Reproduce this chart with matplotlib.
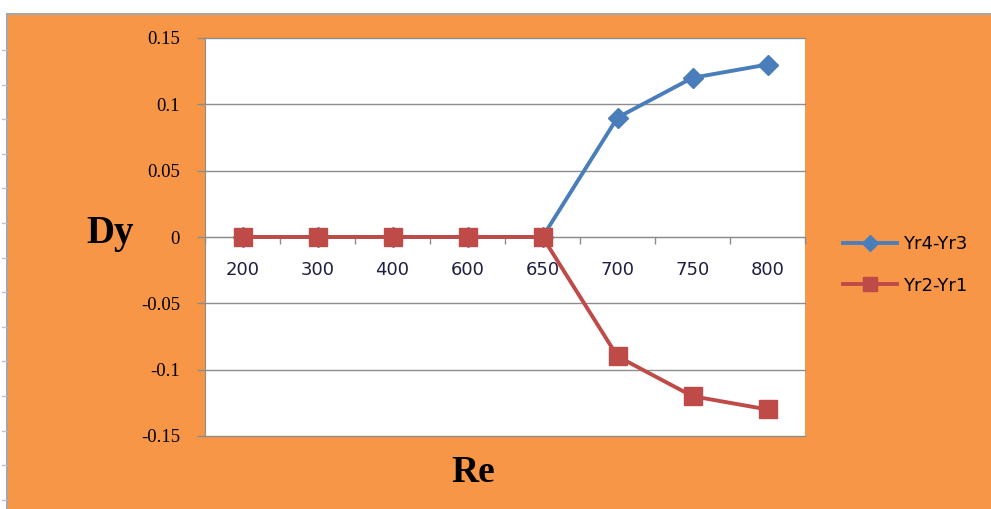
import numpy as np
import matplotlib
matplotlib.use("Agg")
import matplotlib.pyplot as plt
from matplotlib.patches import Rectangle
from matplotlib.lines import Line2D

# Reynolds number categories and the two displacement differences
re_labels = ["200", "300", "400", "600", "650", "700", "750", "800"]
yr4_yr3 = [0, 0, 0, 0, 0, 0.09, 0.12, 0.13]
yr2_yr1 = [0, 0, 0, 0, 0, -0.09, -0.12, -0.13]
y_ticks = [0.15, 0.1, 0.05, 0, -0.05, -0.1, -0.15]
y_tick_labels = ["0.15", "0.1", "0.05", "0", "-0.05", "-0.1", "-0.15"]

W, H = 991, 509
fig = plt.figure(figsize=(W / 100, H / 100), dpi=100)
fig.patch.set_facecolor("white")

# orange chart panel with a thin grey border
panel = Rectangle((7 / W, -0.01), (W - 7) / W + 0.01, (H - 14) / H + 0.01,
                  transform=fig.transFigure, facecolor="#F79646",
                  edgecolor="#A6A6A6", lw=1.5, zorder=-10)
fig.patches.append(panel)

# little ruler marks down the left margin
for yy in np.arange(50, H, 34.6):
    fig.add_artist(Line2D([2 / W, 6 / W], [1 - yy / H, 1 - yy / H],
                          transform=fig.transFigure, color="#B8C4D6", lw=1,
                          zorder=-5))

ax = fig.add_axes([205 / W, 1 - 436 / H, 600 / W, 398 / H])
ax.set_facecolor("white")

x = np.arange(len(re_labels))
ax.plot(x, yr4_yr3, color="#4A7EBB", lw=2.8, marker="D", ms=10,
        label="Yr4-Yr3", zorder=3, clip_on=False)
ax.plot(x, yr2_yr1, color="#BE4B48", lw=2.8, marker="s", ms=12.5,
        label="Yr2-Yr1", zorder=4, clip_on=False)

ax.set_xlim(-0.5, len(re_labels) - 0.5)
ax.set_ylim(-0.15, 0.15)

grey = "#8C8C8C"
ax.set_yticks(y_ticks)
ax.set_yticklabels(y_tick_labels, family="Liberation Serif", fontsize=13.5)
ax.yaxis.grid(True, color=grey, lw=1, clip_on=False)
ax.set_axisbelow(True)
ax.tick_params(axis="y", length=6, color=grey, width=1, pad=12)

for s in ["top", "right"]:
    ax.spines[s].set_visible(False)
ax.spines["left"].set_color(grey)
ax.spines["bottom"].set_color(grey)
ax.spines["bottom"].set_position(("data", 0))

ax.set_xticks(x)
ax.set_xticklabels(re_labels, family="DejaVu Sans", fontsize=13,
                   color="#1F1F3F")
ax.set_xticks(np.arange(-0.5, len(re_labels)), minor=True)
ax.tick_params(axis="x", which="major", length=0, pad=17)
ax.tick_params(axis="x", which="minor", length=5, color=grey, width=1)

fig.text(110 / W, 1 - 234 / H, "Dy", family="Liberation Serif",
         fontweight="bold", fontsize=28, ha="center", va="center")
fig.text(473 / W, 1 - 472 / H, "Re", family="Liberation Serif",
         fontweight="bold", fontsize=27, ha="center", va="center")

ax.legend(loc="center left", bbox_to_anchor=(843 / W, 1 - 265 / H),
          bbox_transform=fig.transFigure, frameon=False, fontsize=13,
          handlelength=3.0, handletextpad=0.3, labelspacing=1.3,
          borderaxespad=0, borderpad=0, markerscale=0.85)

fig.savefig("out.png", dpi=100, facecolor=fig.get_facecolor())
